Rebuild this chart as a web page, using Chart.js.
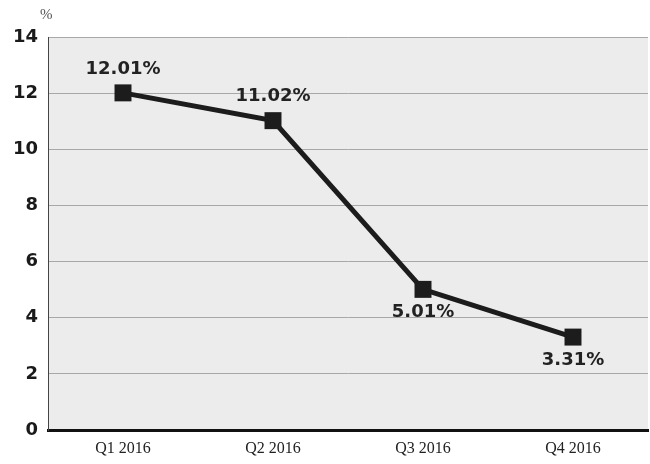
<!DOCTYPE html>
<html>
<head>
<meta charset="utf-8">
<script src="https://cdn.jsdelivr.net/npm/chart.js@4/dist/chart.umd.min.js"></script>
<style>
  html, body { margin: 0; padding: 0; background: #ffffff; }
  #wrap { position: relative; width: 650px; height: 464px; }
  #unit { position: absolute; left: 40px; top: 6px; font: 15px "Liberation Serif", serif; color: #555; }
</style>
</head>
<body>
<div id="wrap">
  <canvas id="c" width="650" height="464"></canvas>
  <div id="unit">%</div>
</div>
<script>
const categories = ["Q1 2016", "Q2 2016", "Q3 2016", "Q4 2016"];
const values = [12.01, 11.02, 5.01, 3.31];
const valueLabels = ["12.01%", "11.02%", "5.01%", "3.31%"];
const yTicks = [0, 2, 4, 6, 8, 10, 12, 14];

const bgPlugin = {
  id: 'plotBg',
  beforeDraw(chart) {
    const { ctx, chartArea: a } = chart;
    ctx.save();
    ctx.fillStyle = '#ececec';
    ctx.fillRect(a.left, a.top, a.right - a.left, a.bottom - a.top);
    ctx.restore();
  }
};

const labelPlugin = {
  id: 'valueLabels',
  afterDatasetsDraw(chart, args, opts) {
    const { ctx } = chart;
    const meta = chart.getDatasetMeta(0);
    ctx.save();
    ctx.font = 'bold 18px "DejaVu Sans", sans-serif';
    ctx.fillStyle = '#222';
    ctx.textAlign = 'center';
    ctx.textBaseline = 'middle';
    meta.data.forEach((pt, i) => {
      const below = opts.below[i];
      const y = below ? pt.y + 23 : pt.y - 24;
      ctx.fillText(valueLabels[i], pt.x, y);
    });
    ctx.restore();
  }
};

new Chart(document.getElementById('c'), {
  type: 'line',
  data: {
    labels: categories,
    datasets: [{
      data: values,
      borderColor: '#1c1c1c',
      borderWidth: 5,
      pointStyle: 'rect',
      pointRadius: 12,
      pointHoverRadius: 12,
      pointBackgroundColor: '#1c1c1c',
      pointBorderColor: '#1c1c1c',
      pointBorderWidth: 0,
      tension: 0,
      clip: false
    }]
  },
  plugins: [bgPlugin, labelPlugin],
  options: {
    responsive: false,
    animation: false,
    layout: { autoPadding: false, padding: { top: 37, right: 2, bottom: 0, left: 0 } },
    plugins: {
      legend: { display: false },
      tooltip: { enabled: false },
      valueLabels: { below: [false, false, true, true] }
    },
    scales: {
      x: {
        offset: true,
        grid: { display: false, drawTicks: false },
        border: { display: true, color: '#111', width: 3 },
        ticks: {
          color: '#222',
          padding: 9,
          font: { family: '"Liberation Serif", serif', size: 16 }
        },
        afterFit(scale) {
          scale.height = 34;
          scale.paddingLeft = 0;
          scale.paddingRight = 0;
        }
      },
      y: {
        min: 0,
        max: 14,
        afterBuildTicks(scale) { scale.ticks = yTicks.map(v => ({ value: v })); },
        grid: { color: '#a8a8a8', lineWidth: 1, drawTicks: false },
        border: { display: true, color: '#444', width: 1 },
        ticks: {
          color: '#1a1a1a',
          padding: 10,
          font: { family: '"DejaVu Sans", sans-serif', size: 18, weight: 'bold' }
        },
        afterFit(scale) { scale.width = 48; }
      }
    }
  }
});
</script>
</body>
</html>
